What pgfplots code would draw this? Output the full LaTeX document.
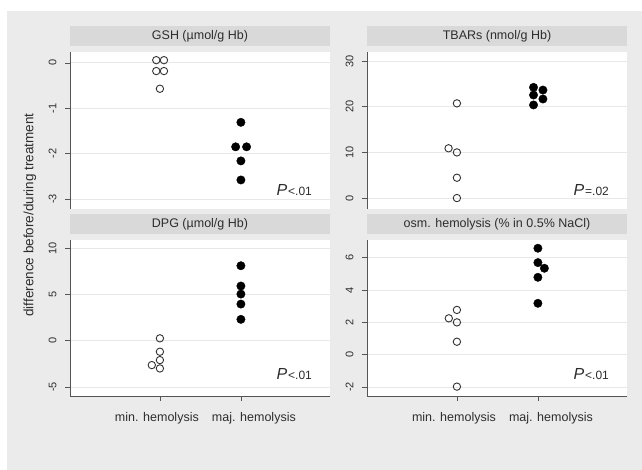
\documentclass[border=0pt]{standalone}
\usepackage{fontspec}
\setmainfont{Liberation Sans}
\usepackage{pgfplots}
\pgfplotsset{compat=1.18}
\definecolor{outerbg}{RGB}{235,235,235}
\definecolor{strip}{RGB}{217,217,217}
\definecolor{gridc}{RGB}{232,232,232}
\definecolor{axc}{RGB}{85,85,85}
\definecolor{txt}{RGB}{45,45,45}

\pgfplotsset{
panel/.style={
  scale only axis, width=260pt, height=156pt,
  xmin=-0.11, xmax=3.1,
  axis background/.style={fill=white},
  ymajorgrids, major grid style={gridc, line width=0.8pt},
  tick align=outside, major tick length=5pt,
  tick style={axc, line width=0.7pt},
  axis line style={axc, line width=0.8pt},
  yticklabel style={rotate=90, anchor=south, font=\fontsize{11}{13}\selectfont, text=txt},
  yticklabel shift=5pt,
  title style={at={(0.5,1)}, anchor=south, fill=strip, minimum width=260pt, minimum height=20pt, inner sep=0pt, font=\fontsize{12.5}{14}\selectfont, text=txt},
  clip=false,
},
toppanel/.style={panel, axis y line*=left, axis x line=none, height=157pt},
botpanel/.style={panel, axis lines*=left, xtick={1,2},
  xticklabels={{\hspace*{-6pt}min. hemolysis}, {\hspace*{26pt}maj. hemolysis}},
  xticklabel style={font=\fontsize{12.5}{14}\selectfont, text=txt, yshift=-8pt}},
openm/.style={only marks, mark=o, mark size=3.7pt, mark options={draw=black!80, line width=0.9pt}},
fillm/.style={only marks, mark=*, mark size=4.2pt, mark options={fill=black, draw=black}},
}
\newcommand{\pval}[1]{{\fontsize{16}{18}\selectfont\itshape P}\kern1pt{\fontsize{12}{14}\selectfont #1}}

\begin{document}
\begin{tikzpicture}
\fill[white] (0pt,0pt) rectangle (642pt,-470pt);
\fill[outerbg] (7pt,-11pt) rectangle (642pt,-470pt);
\node[rotate=90, font=\fontsize{13.5}{16}\selectfont, text=txt] at (30pt,-215pt) {difference before/during treatment};

% GSH
\begin{axis}[toppanel, at={(70pt,-52pt)}, anchor=north west,
  ymin=-3.22, ymax=0.24, ytick={-3,-2,-1,0}, yticklabels={-3,-2,-1,0},
  title={GSH (µmol/g Hb)}]
\addplot[openm] coordinates {(0.955,0.06) (1.05,0.06) (0.955,-0.18) (1.05,-0.18) (1.0,-0.57)};
\addplot[fillm] coordinates {(2,-1.31) (1.935,-1.85) (2.07,-1.85) (2,-2.16) (2,-2.58)};
\node[anchor=base east, inner sep=0pt, text=txt] at (rel axis cs:0.931,0.083) {\pval{<.01}};
\end{axis}

% TBARs
\begin{axis}[toppanel, at={(367pt,-52pt)}, anchor=north west,
  ymin=-2.4, ymax=32, ytick={0,10,20,30}, yticklabels={0,10,20,30},
  title={TBARs (nmol/g Hb)}]
\addplot[openm] coordinates {(1,20.75) (0.897,10.9) (1,10.0) (1,4.45) (1,0.0)};
\addplot[fillm] coordinates {(1.946,24.25) (1.946,22.57) (1.946,20.4) (2.062,23.66) (2.062,21.7)};
\node[anchor=base east, inner sep=0pt, text=txt] at (rel axis cs:0.931,0.083) {\pval{=.02}};
\end{axis}

% DPG
\begin{axis}[botpanel, at={(70pt,-240pt)}, anchor=north west,
  ymin=-5.98, ymax=10.87, ytick={-5,0,5,10}, yticklabels={-5,0,5,10},
  title={DPG (µmol/g Hb)}]
\addplot[openm] coordinates {(1,0.25) (1,-1.2) (1,-2.1) (0.9,-2.64) (1,-3.0)};
\addplot[fillm] coordinates {(2,8.09) (2,5.9) (2,5.03) (2,3.95) (2,2.3)};
\node[anchor=base east, inner sep=0pt, text=txt] at (rel axis cs:0.931,0.103) {\pval{<.01}};
\end{axis}

% osm. hemolysis
\begin{axis}[botpanel, at={(367pt,-240pt)}, anchor=north west,
  ymin=-2.56, ymax=7.1, ytick={-2,0,2,4,6}, yticklabels={-2,0,2,4,6},
  title={osm. hemolysis (\% in 0.5\% NaCl)}]
\addplot[openm] coordinates {(1,2.77) (0.9,2.25) (1,2.0) (1,0.8) (1,-1.98)};
\addplot[fillm] coordinates {(2,6.59) (2,5.7) (2.08,5.35) (2,4.79) (2,3.18)};
\node[anchor=base east, inner sep=0pt, text=txt] at (rel axis cs:0.931,0.103) {\pval{<.01}};
\end{axis}
\end{tikzpicture}
\end{document}
